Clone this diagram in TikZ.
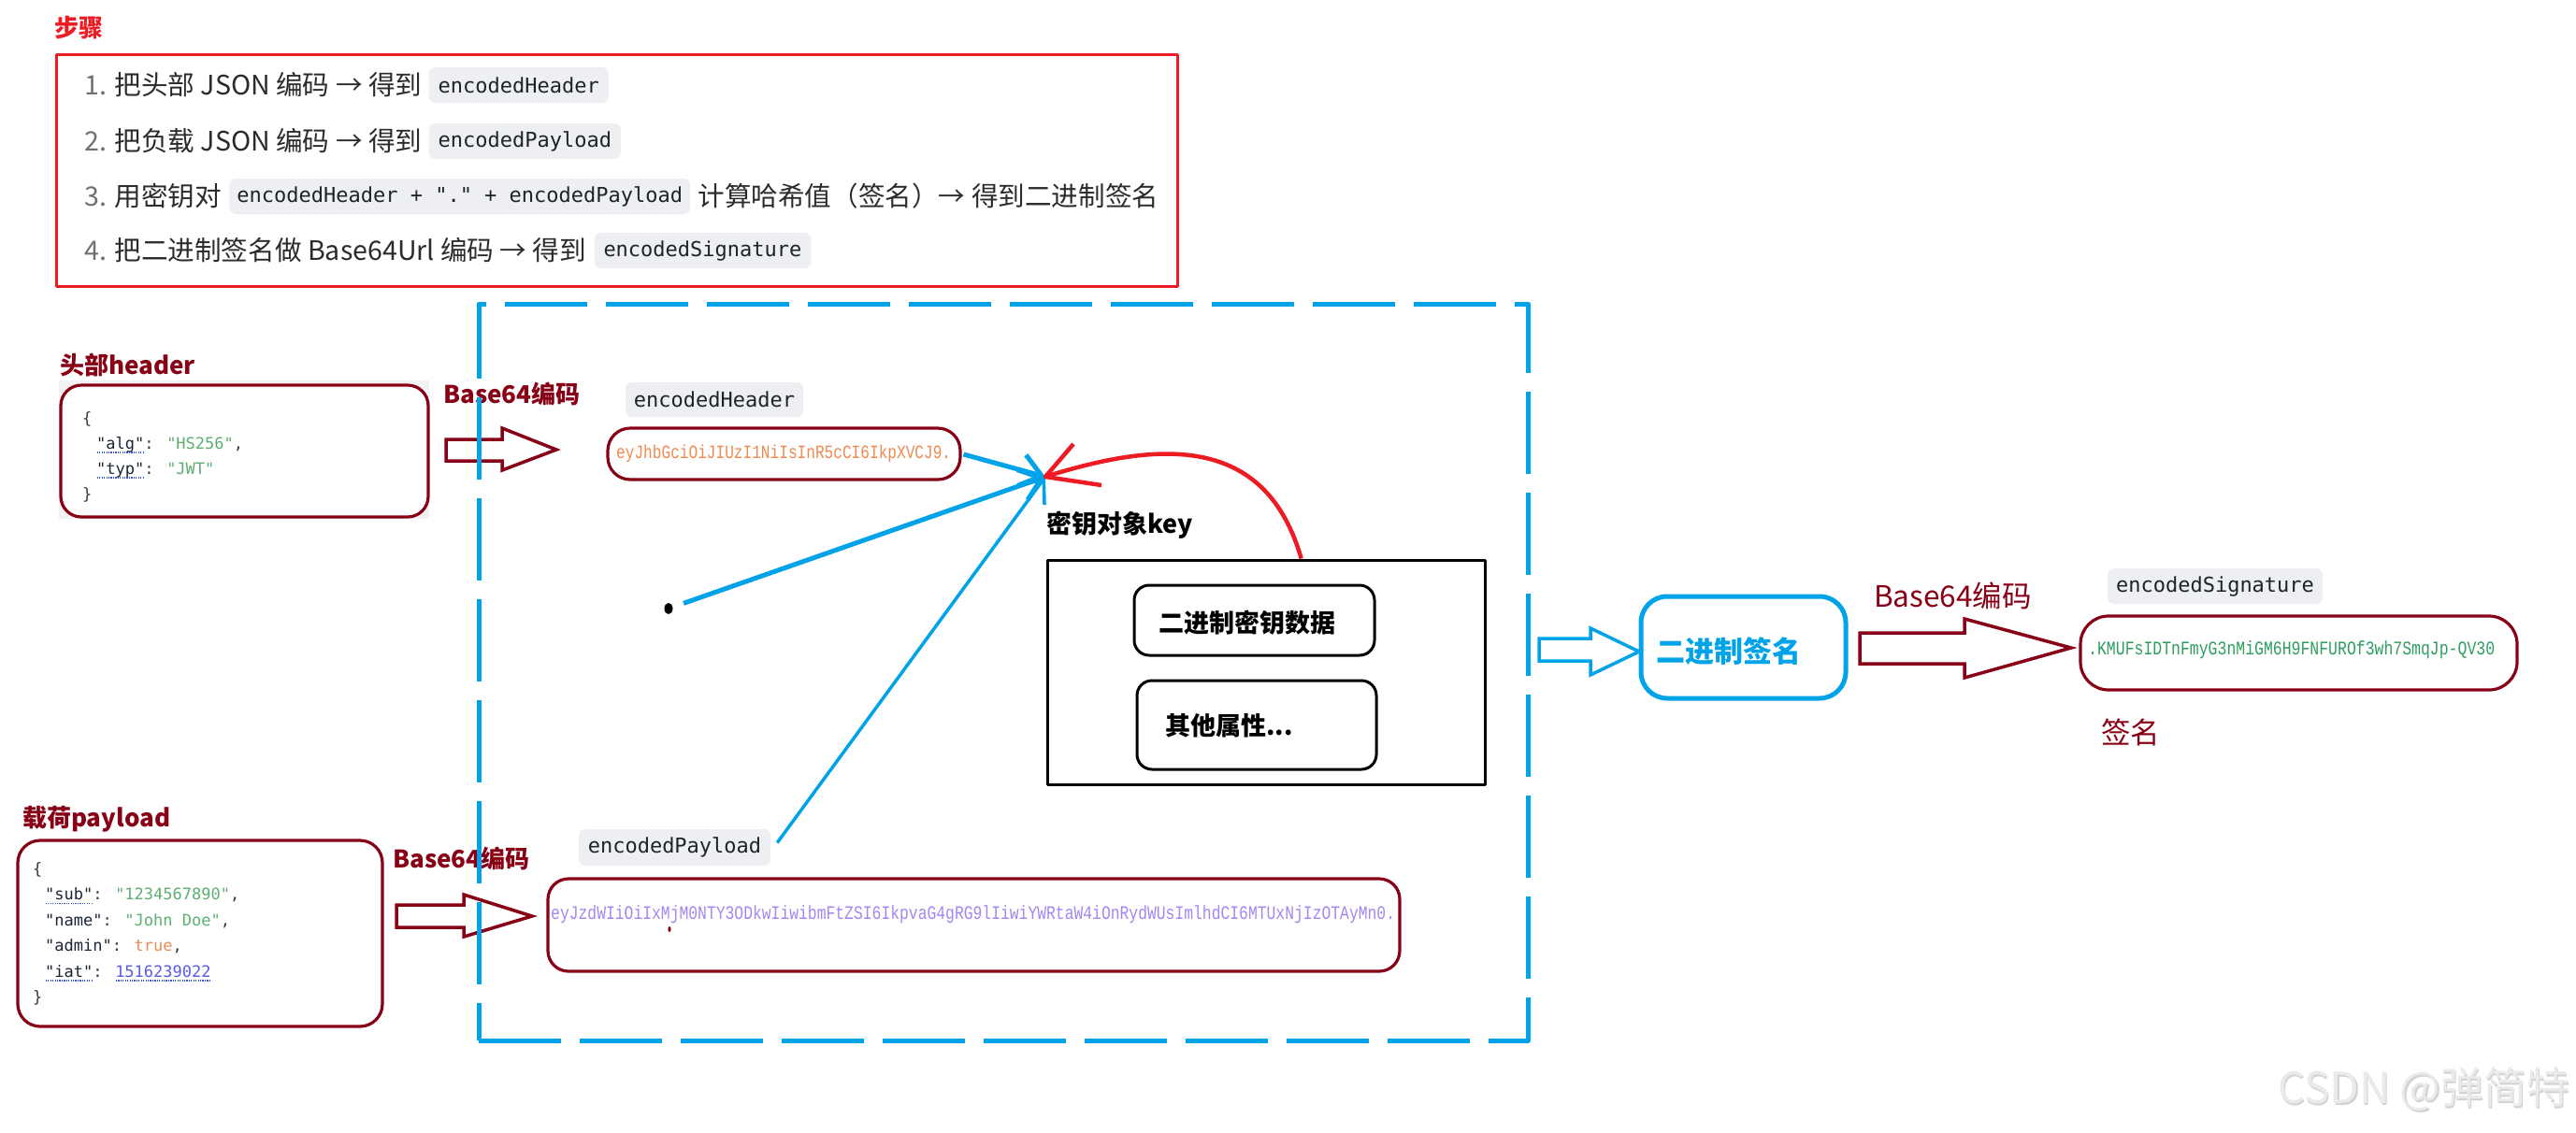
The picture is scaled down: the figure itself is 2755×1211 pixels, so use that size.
\documentclass[tikz,border=0pt]{standalone}
\usepackage{fontspec}
\usepackage{graphicx}
\setmainfont{Noto Sans CJK SC}
\newfontfamily\cjk{Noto Sans CJK SC}
\newfontfamily\mono{DejaVu Sans Mono}
\newfontfamily\vmono{Liberation Mono}
\usetikzlibrary{arrows.meta,calc}
\definecolor{dred}{HTML}{880015}
\definecolor{pred}{HTML}{ED1C24}
\definecolor{pblue}{HTML}{00A2E8}
\definecolor{codebg}{HTML}{EDEFF3}
\definecolor{codetxt}{HTML}{1F2328}
\definecolor{txt}{HTML}{2B2B2B}
\definecolor{numgray}{HTML}{707070}
\definecolor{jkey}{HTML}{1C2538}
\definecolor{jpunct}{HTML}{3A3A3A}
\definecolor{jstr}{HTML}{5FAE72}
\definecolor{jbool}{HTML}{EB8A5A}
\definecolor{jnum}{HTML}{5A5CE6}
\definecolor{dotblue}{HTML}{3B55D0}
\definecolor{hdrval}{HTML}{EE8A50}
\definecolor{payval}{HTML}{A486F2}
\definecolor{sigval}{HTML}{2E9E5E}
\definecolor{bggray}{HTML}{F2F2F2}
\definecolor{wmfill}{HTML}{EAEAEA}
\definecolor{wmshadow}{HTML}{D2D2D2}
\newcommand\dotu[1]{\setbox0=\hbox{#1}\rlap{\lower4.5pt\hbox to \wd0{\color{dotblue}\xleaders\hbox to 2.4pt{\hss\vrule width 1.2pt height 1.2pt\hss}\hfill}}\box0}
\newcommand\jk[1]{\textcolor{jkey}{#1}}
\newcommand\js[1]{\textcolor{jstr}{#1}}
\newcommand\jb[1]{\textcolor{jbool}{#1}}
\newcommand\jn[1]{\textcolor{jnum}{#1}}
\newcommand\valfit[2]{\scalebox{1}[1.25]{\resizebox{#1}{!}{#2}}}
\begin{document}
\begin{tikzpicture}[x=1pt,y=-1pt,line join=round]
\tikzset{
 lbl/.style={inner sep=0pt, anchor=west},
 boldred/.style={lbl, text=dred, font=\cjk\bfseries\fontsize{26pt}{30pt}\selectfont},
 boldblack/.style={lbl, text=black, font=\cjk\bfseries\fontsize{27pt}{31pt}\selectfont},
 plainred/.style={lbl, text=dred, font=\cjk\fontsize{31.5pt}{35pt}\selectfont},
 steptxt/.style={lbl, text=txt, font=\cjk\fontsize{28.6pt}{32pt}\selectfont},
 codespan/.style={anchor=west, fill=codebg, rounded corners=7pt, inner xsep=10pt, inner ysep=0pt,
   minimum height=38pt, text=codetxt, font=\mono\fontsize{22pt}{26pt}\selectfont},
 jline/.style={anchor=base west, inner sep=0pt, text=jpunct, font=\mono\fontsize{17pt}{20pt}\selectfont},
 redbox/.style={draw=dred, line width=3.2pt, rounded corners=#1, inner sep=0pt},
 valtxt/.style={anchor=west, inner sep=0pt, font=\vmono\fontsize{16.3pt}{19pt}\selectfont},
 blockarrow/.style={draw=#1, line width=3.5pt, line join=miter},
 bluearr/.style={draw=pblue, line width=5pt, -{Straight Barb[length=22pt,width=34pt]}},
 wm/.style={anchor=east, inner sep=0pt, font=\cjk\fontsize{46pt}{50pt}\selectfont},
}
\useasboundingbox (0,0) rectangle (2755,1211);
\fill[white] (0,0) rectangle (2755,1211);

% ---------- steps ----------
\node[boldred, text=pred] (title) at (58,30) {步骤};
\node[draw=pred, line width=3pt, minimum width=1199, minimum height=248, inner sep=0pt] (steps) at (659.5,182) {};
\node[steptxt] (s1) at (90,91) {\textcolor{numgray}{1.} 把头部 JSON 编码 → 得到};
\node[codespan] (c1) at ([xshift=7pt]s1.east) {encodedHeader};
\node[steptxt] (s2) at (90,151) {\textcolor{numgray}{2.} 把负载 JSON 编码 → 得到};
\node[codespan] (c2) at ([xshift=7pt]s2.east) {encodedPayload};
\node[steptxt] (s3) at (90,210) {\textcolor{numgray}{3.} 用密钥对};
\node[codespan, inner xsep=8pt] (c3) at ([xshift=8pt]s3.east) {encodedHeader + "." + encodedPayload};
\node[steptxt] (s3b) at ([xshift=8pt]c3.east) {计算哈希值（签名）→ 得到二进制签名};
\node[steptxt] (s4) at (90,268) {\textcolor{numgray}{4.} 把二进制签名做 Base64Url 编码 → 得到};
\node[codespan] (c4) at ([xshift=8pt]s4.east) {encodedSignature};

% ---------- header ----------
\node[boldred] (hlab) at (64,390) {头部header};
\fill[bggray] (63,407) rectangle (459,555);
\node[redbox=22pt, fill=white, minimum width=393, minimum height=141] (hbox) at (261.5,482.5) {};
\node[jline] (hj1) at (88,453) {\{};
\node[jline] (hj2) at (103,480) {\jk{\dotu{"alg"}}: \js{"HS256"},};
\node[jline] (hj3) at (103,507) {\jk{\dotu{"typ"}}: \js{"JWT"}};
\node[jline] (hj4) at (88,534) {\}};

% ---------- payload ----------
\node[boldred] (plab) at (24,876) {载荷payload};
\node[redbox=24pt, fill=white, minimum width=390, minimum height=199] (pbox) at (214,998.5) {};
\node[jline] (pj1) at (35,935) {\{};
\node[jline] (pj2) at (48,962.5) {\jk{\dotu{"sub"}}: \js{"1234567890"},};
\node[jline] (pj3) at (48,990) {\jk{"name"}: \js{"John Doe"},};
\node[jline] (pj4) at (48,1017.5) {\jk{"admin"}: \jb{true},};
\node[jline] (pj5) at (48,1045) {\jk{\dotu{"iat"}}: \jn{\dotu{1516239022}}};
\node[jline] (pj6) at (35,1072.5) {\}};

% ---------- Base64 block arrows ----------
\node[boldred] (b64h) at (474,421) {Base64编码};
\draw[blockarrow=dred] (477,470) -- (537,470) -- (537,458) -- (595,481) -- (537,503) -- (537,493) -- (477,493) -- cycle;
\node[boldred] (b64p) at (420,918) {Base64编码};
\draw[blockarrow=dred] (424,968) -- (496,968) -- (496,957) -- (569,980) -- (496,1002) -- (496,992) -- (424,992) -- cycle;

% ---------- dashed frame ----------
\node[draw=pblue, line width=5pt, dash pattern=on 88pt off 20pt, minimum width=1122, minimum height=788, inner sep=0pt] (frame) at (1073,719) {};

% ---------- encoded header / payload ----------
\node[codespan, anchor=center, minimum width=190, minimum height=37, inner xsep=0pt] (hl) at (764,427.5) {encodedHeader};
\node[redbox=24pt, minimum width=377, minimum height=55] (hv) at (838.5,485.5) {};
\node[valtxt, text=hdrval] (hvt) at (659,485.5) {\valfit{358pt}{eyJhbGciOiJIUzI1NiIsInR5cCI6IkpXVCJ9.}};

\node[codespan, anchor=center, minimum width=205, minimum height=39, inner xsep=0pt] (pl) at (721.5,906.5) {encodedPayload};
\node[redbox=22pt, minimum width=911, minimum height=99] (pv) at (1041.5,989.5) {};
\node[valtxt, text=payval] (pvt) at (589,978) {\valfit{903pt}{eyJzdWIiOiIxMjM0NTY3ODkwIiwibmFtZSI6IkpvaG4gRG9lIiwiYWRtaW4iOnRydWUsImlhdCI6MTUxNjIzOTAyMn0.}};
\fill[dred] (716,994) ellipse (1.6pt and 3pt);

% ---------- key object ----------
\node[boldblack] (klab) at (1119,562) {密钥对象key};
\node[draw=black, line width=3pt, minimum width=468, minimum height=240, inner sep=0pt] (kbox) at (1354,719) {};
\node[draw=black, line width=3pt, rounded corners=16pt, minimum width=257, minimum height=75, inner sep=0pt] (kin1) at (1341.5,663.5) {};
\node[boldblack] (kin1t) at (1239,666) {二进制密钥数据};
\node[draw=black, line width=3pt, rounded corners=16pt, minimum width=256, minimum height=95, inner sep=0pt] (kin2) at (1344,775.5) {};
\node[boldblack] (kin2t) at (1246,776) {其他属性...};

% ---------- converging arrows ----------
\coordinate (conv) at (1118,510);
\fill[black] (715,651) ellipse (4.5pt and 6pt);
\coordinate (dot) at (715,651);
\draw[bluearr, shorten <=2pt] (hv.east) -- (conv);
\draw[bluearr, shorten <=17pt] (dot) -- (conv);
\draw[bluearr, line width=3.5pt] ($(pl.east)+(7,-5)$) -- (conv);
\coordinate (kstart) at ($(kbox.north west)!0.58!(kbox.north east)$);
\draw[pred, line width=4.5pt] (kstart) .. controls (1355,470) and (1250,468) .. (conv);
\draw[pred, line width=4.5pt] ($(conv)+(30,-35)$) -- (conv) -- ($(conv)+(60,9)$);

% ---------- binary signature ----------
\draw[blockarrow=pblue] (1646,683) -- (1701,683) -- (1701,672) -- (1753,697) -- (1701,722) -- (1701,707) -- (1646,707) -- cycle;
\node[draw=pblue, line width=5pt, rounded corners=28pt, minimum width=219, minimum height=109, inner sep=0pt] (bs) at (1864.5,692.5) {};
\node[lbl, text=pblue, font=\cjk\bfseries\fontsize{31pt}{35pt}\selectfont] (bst) at (1771,697) {二进制签名};

\node[plainred] (b64s) at (2004,637) {Base64编码};
\draw[blockarrow=dred] (1989,677) -- (2101,677) -- (2101,662) -- (2215,693) -- (2101,725) -- (2101,710) -- (1989,710) -- cycle;

\node[codespan, anchor=center, minimum width=230, minimum height=38, inner xsep=0pt] (sl) at (2369,627) {encodedSignature};
\node[redbox=30pt, minimum width=467, minimum height=79] (sv) at (2458.5,698.5) {};
\node[valtxt, text=sigval] (svt) at (2233,695) {\valfit{435pt}{.KMUFsIDTnFmyG3nMiGM6H9FNFUROf3wh7SmqJp-QV30}};
\node[plainred] (sig) at (2247,783) {签名};

% ---------- watermark ----------
\node[wm, text=wmshadow] (wms) at (2750,1167) {CSDN @弹简特};
\node[wm, text=wmfill] (wmt) at (2748.5,1165.5) {CSDN @弹简特};
\end{tikzpicture}
\end{document}
